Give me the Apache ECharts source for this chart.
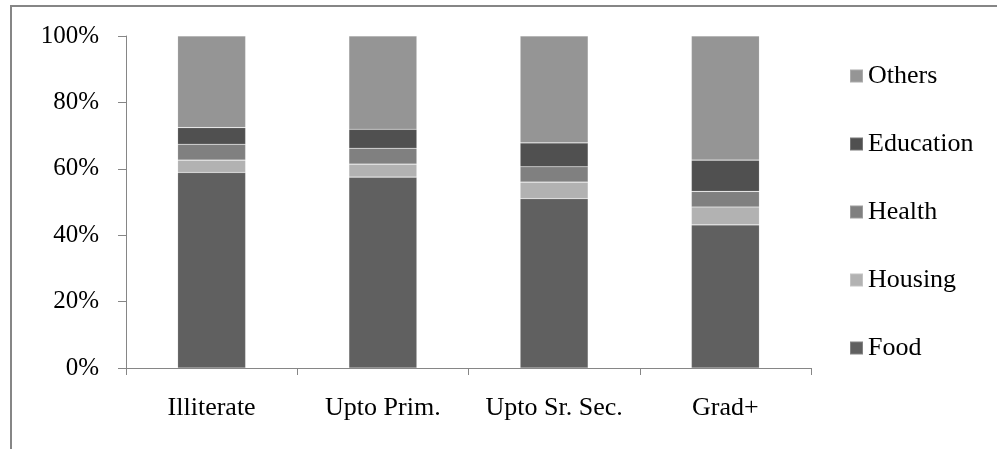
<!DOCTYPE html>
<html>
<head>
<meta charset="utf-8">
<script src="https://cdn.jsdelivr.net/npm/echarts@6/dist/echarts.min.js"></script>
<style>
html,body{margin:0;padding:0;background:#fff;}
#chart{width:997px;height:449px;}
</style>
</head>
<body>
<div id="chart"></div>
<script>
var categories = ['Illiterate', 'Upto Prim.', 'Upto Sr. Sec.', 'Grad+'];
var food      = [58.9, 57.5, 51.0, 43.1];
var housing   = [3.7, 3.9, 5.0, 5.4];
var health    = [4.8, 4.8, 4.6, 4.7];
var education = [5.0, 5.7, 7.2, 9.4];
var others    = [27.6, 28.1, 32.2, 37.4];
var yTicks    = [0, 20, 40, 60, 80, 100];

var FONT = '"Liberation Serif", "Times New Roman", serif';
var chart = echarts.init(document.getElementById('chart'), null, {renderer: 'canvas'});

function mk(name, data, color) {
  return {
    name: name, type: 'bar', stack: 'total', data: data, barWidth: 68,
    itemStyle: {color: color, borderColor: 'rgba(255,255,255,0.22)', borderWidth: 0.6},
    emphasis: {disabled: true}
  };
}

chart.setOption({
  animation: false,
  backgroundColor: '#fff',
  graphic: [{
    type: 'rect', silent: true, z: 0,
    shape: {x: 11, y: 6, width: 1100, height: 600},
    style: {fill: 'none', stroke: '#868686', lineWidth: 2}
  }],
  grid: {left: 126, right: 186, top: 36, bottom: 81, containLabel: false},
  legend: {
    orient: 'vertical', left: 849, top: 63, padding: 0,
    data: ['Others', 'Education', 'Health', 'Housing', 'Food'],
    icon: 'rect', itemWidth: 13, itemHeight: 13, itemGap: 42,
    selectedMode: false,
    textStyle: {fontFamily: FONT, fontSize: 26, color: '#000', lineHeight: 26, height: 26}
  },
  xAxis: {
    type: 'category', data: categories,
    axisLine: {lineStyle: {color: '#868686', width: 1}},
    axisTick: {show: true, length: 7, lineStyle: {color: '#868686'}},
    axisLabel: {fontFamily: FONT, fontSize: 26, color: '#000', margin: 27, interval: 0}
  },
  yAxis: {
    type: 'value', min: 0, max: 100, interval: 20,
    axisLine: {show: true, lineStyle: {color: '#868686', width: 1}},
    axisTick: {show: true, length: 8, lineStyle: {color: '#868686'}},
    splitLine: {show: false},
    axisLabel: {
      fontFamily: FONT, fontSize: 25, color: '#000', margin: 27,
      customValues: yTicks,
      formatter: function (v) { return v + '%'; }
    }
  },
  series: [
    mk('Food', food, '#606060'),
    mk('Housing', housing, '#b2b2b2'),
    mk('Health', health, '#808080'),
    mk('Education', education, '#505050'),
    mk('Others', others, '#959595')
  ]
});
</script>
</body>
</html>
